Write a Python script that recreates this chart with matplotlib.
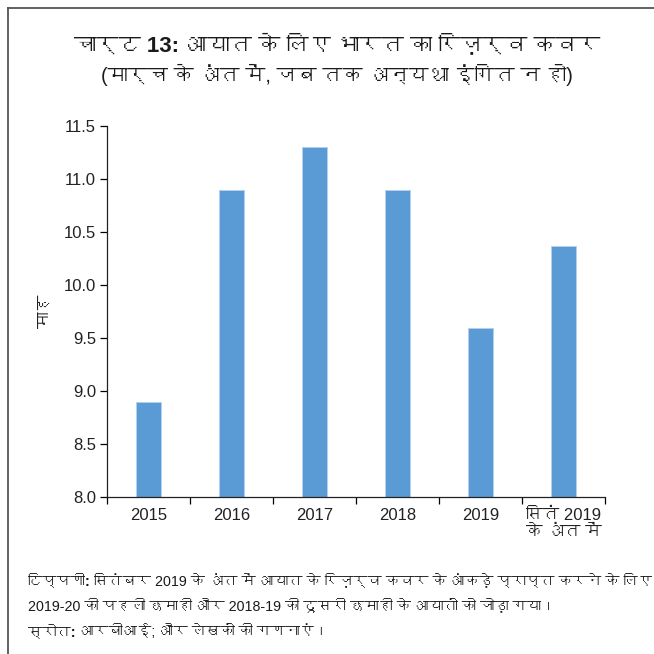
"""
चार्ट 13: आयात के लिए भारत का रिज़र्व कवर
"""

import matplotlib
matplotlib.use("Agg")
import matplotlib.pyplot as plt
from matplotlib import font_manager
from matplotlib.ft2font import FT2Font
from matplotlib.lines import Line2D

years = ["2015", "2016", "2017", "2018", "2019", "सितं 2019\nके अंत में"]
months = [8.9, 10.9, 11.3, 10.9, 9.6, 10.37]
y_ticks = [8.0, 8.5, 9.0, 9.5, 10.0, 10.5, 11.0, 11.5]

title = "चार्ट 13: आयात के लिए भारत का रिज़र्व कवर"
subtitle = "(मार्च के अंत में, जब तक अन्यथा इंगित न हो)"
y_label = "माह"
note_lines = [
    ("टिप्पणी:", " सितंबर 2019 के अंत में आयात के रिज़र्व कवर के आंकड़े प्राप्त करने के लिए"),
    ("", "2019-20 की पहली छमाही और 2018-19 की दूसरी छमाही के आयातों को जोड़ा गया।"),
    ("स्रोत:", " आरबीआई; और लेखकों की गणनाएं।"),
]


def _find_family(ch="क"):
    for f in font_manager.fontManager.ttflist:
        try:
            if ord(ch) in FT2Font(f.fname).get_charmap():
                return f.name
        except Exception:
            pass
    return None


deva = _find_family()
fams = ["Liberation Sans Narrow", "Liberation Sans"]
if deva:
    fams.append(deva)
fams.append("DejaVu Sans")
plt.rcParams["font.family"] = fams
tick_fams = ["Liberation Sans"] + ([deva] if deva else []) + ["DejaVu Sans"]

fig = plt.figure(figsize=(6.54, 6.54), dpi=100)
ax = fig.add_axes([0.1636, 0.24, 0.7615, 0.567])

x = list(range(len(years)))
ax.bar(x, months, width=0.31, bottom=0, color="#5B9BD5",
       edgecolor="#b4d0ee", linewidth=0.7, zorder=2)

ax.set_ylim(8.0, 11.5)
ax.set_xlim(-0.5, len(years) - 0.5)
ax.set_yticks(y_ticks)
ax.set_yticklabels([f"{v:.1f}" for v in y_ticks], fontsize=12, color="#222222",
                   family=tick_fams)

# ticks between categories, labels at the centers
ax.set_xticks([i - 0.5 for i in range(len(years) + 1)])
ax.set_xticklabels([])
ax.set_xticks(x, minor=True)
ax.set_xticklabels(years, minor=True, fontsize=12, color="#222222",
                   linespacing=1.15, va="top", family=tick_fams)
ax.tick_params(axis="x", which="major", length=5, width=0.9, direction="out")
ax.tick_params(axis="x", which="minor", length=0, pad=8)
ax.tick_params(axis="y", length=5, width=0.9, direction="out", pad=3)

for s in ["top", "right"]:
    ax.spines[s].set_visible(False)
for s in ["left", "bottom"]:
    ax.spines[s].set_color("#222222")
    ax.spines[s].set_linewidth(0.9)

ax.set_ylabel(y_label, fontsize=12, labelpad=8, color="#222222")

fig.text(0.515, 0.931, title, ha="center", va="center", fontsize=16,
         fontweight="bold", color="#1a1a1a")
fig.text(0.515, 0.885, subtitle, ha="center", va="center", fontsize=14.5,
         color="#1a1a1a")

ys = [0.113, 0.074, 0.034]
for (head, body), yy in zip(note_lines, ys):
    t = fig.text(0.043, yy, head, ha="left", va="center", fontsize=10.3,
                 fontweight="bold", color="#1a1a1a")
    if head:
        fig.canvas.draw()
        bb = t.get_window_extent().transformed(fig.transFigure.inverted())
        x0 = bb.x1
    else:
        x0 = 0.043
    fig.text(x0, yy, body, ha="left", va="center", fontsize=10.3, color="#1a1a1a")

# frame lines on top and left
fig.add_artist(Line2D([0.012, 0.012], [0.0, 0.988], transform=fig.transFigure,
                      color="#555555", lw=1.3))
fig.add_artist(Line2D([0.012, 1.0], [0.988, 0.988], transform=fig.transFigure,
                      color="#555555", lw=1.3))

fig.savefig("out.png", dpi=100)
